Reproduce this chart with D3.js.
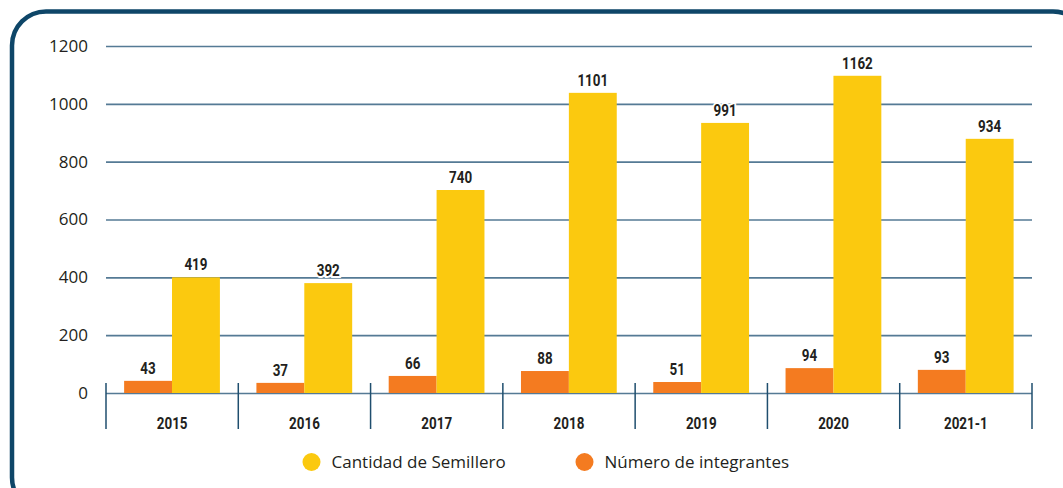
<!DOCTYPE html>
<html>
<head>
<meta charset="utf-8">
<script src="https://cdn.jsdelivr.net/npm/d3@7"></script>
<style>
  body { margin: 0; background: #fff; }
  .val { font-family: Roboto, "DejaVu Sans", sans-serif; font-weight: bold; font-size: 16px; fill: #231f20; }
</style>
</head>
<body>
<script>
// data
const categories = ["2015", "2016", "2017", "2018", "2019", "2020", "2021-1"];
const seriesNames = ["Cantidad de Semillero", "Número de integrantes"];
// printed labels
const semilleroLabels = [419, 392, 740, 1101, 991, 1162, 934];
const integrantesLabels = [43, 37, 66, 88, 51, 94, 93];
// bar heights as drawn (the original bars are a bit shorter than their labels)
const semilleroBars = [400, 380, 702, 1038, 934, 1097, 879];
const integrantesBars = [42, 35, 59, 76, 38, 86, 80];
const yTicks = [0, 200, 400, 600, 800, 1000, 1200];

const colors = { semillero: "#fbc90f", integrantes: "#f47b20" };

const W = 1063, H = 488;
const plot = { left: 106, right: 1032, top: 46, bottom: 393 };
const squeeze = 0.84; // condensed look for the bold labels

const svg = d3.select("body").append("svg")
    .attr("width", W)
    .attr("height", H);

// frame
svg.append("rect")
    .attr("x", 12).attr("y", 11.5)
    .attr("width", 1075).attr("height", 500)
    .attr("rx", 34)
    .attr("fill", "none")
    .attr("stroke", "#0e4668")
    .attr("stroke-width", 4.5);

const x = d3.scaleBand().domain(categories).range([plot.left, plot.right]);
const bw = x.bandwidth();
const x1 = d3.scaleBand().domain(["integrantes", "semillero"]).range([bw * 0.137, bw * 0.861]);
const y = d3.scaleLinear().domain([0, 1200]).range([plot.bottom, plot.top]);

// y axis + gridlines
const yAxis = svg.append("g")
    .attr("transform", "translate(" + plot.left + ",0)")
    .call(d3.axisLeft(y).tickValues(yTicks).tickSize(-(plot.right - plot.left)).tickPadding(18).tickFormat(d3.format("d")));
yAxis.select(".domain").remove();
yAxis.selectAll(".tick line").attr("stroke", "#557a95").attr("stroke-width", 1.6);
yAxis.selectAll(".tick text")
    .style("font-family", "'Open Sans', sans-serif")
    .style("font-size", "17px")
    .attr("fill", "#231f20");

// category dividers
const bounds = categories.map(c => x(c)).concat([plot.right]);
svg.selectAll(".divider")
    .data(bounds)
    .enter().append("line")
    .attr("class", "divider")
    .attr("x1", d => d).attr("x2", d => d)
    .attr("y1", 383).attr("y2", 429)
    .attr("stroke", "#1f4e6e").attr("stroke-width", 1.5);

// category labels
svg.selectAll(".cat")
    .data(categories)
    .enter().append("text")
    .attr("class", "val")
    .attr("transform", d => "translate(" + (x(d) + bw / 2) + ",429) scale(" + squeeze + ",1)")
    .attr("text-anchor", "middle")
    .text(d => d);

const rows = categories.map((c, i) => ({
    cat: c,
    integrantes: integrantesBars[i], integrantesLabel: integrantesLabels[i],
    semillero: semilleroBars[i], semilleroLabel: semilleroLabels[i]
}));

["integrantes", "semillero"].forEach(key => {
    svg.selectAll(".bar-" + key)
        .data(rows)
        .enter().append("rect")
        .attr("class", "bar-" + key)
        .attr("x", d => x(d.cat) + x1(key))
        .attr("y", d => y(d[key]))
        .attr("width", x1.bandwidth())
        .attr("height", d => y(0) - y(d[key]))
        .attr("fill", colors[key]);

    svg.selectAll(".lab-" + key)
        .data(rows)
        .enter().append("text")
        .attr("class", "val")
        .attr("transform", d => "translate(" + (x(d.cat) + x1(key) + x1.bandwidth() / 2) + "," + (y(d[key]) - 7) + ") scale(" + squeeze + ",1)")
        .attr("text-anchor", "middle")
        .attr("stroke", "#fff").attr("stroke-width", 4)
        .attr("paint-order", "stroke")
        .text(d => d[key + "Label"]);
});

// legend
const legend = [
    { name: seriesNames[0], color: colors.semillero, cx: 311.5 },
    { name: seriesNames[1], color: colors.integrantes, cx: 584.5 }
];
const lg = svg.selectAll(".legend")
    .data(legend)
    .enter().append("g")
    .attr("transform", d => "translate(" + d.cx + ",462)");
lg.append("circle").attr("r", 9).attr("fill", d => d.color);
lg.append("text")
    .attr("x", 20)
    .attr("dy", "0.35em")
    .style("font-family", "'Open Sans', sans-serif")
    .style("font-size", "17px")
    .attr("fill", "#231f20")
    .text(d => d.name);
</script>
</body>
</html>
